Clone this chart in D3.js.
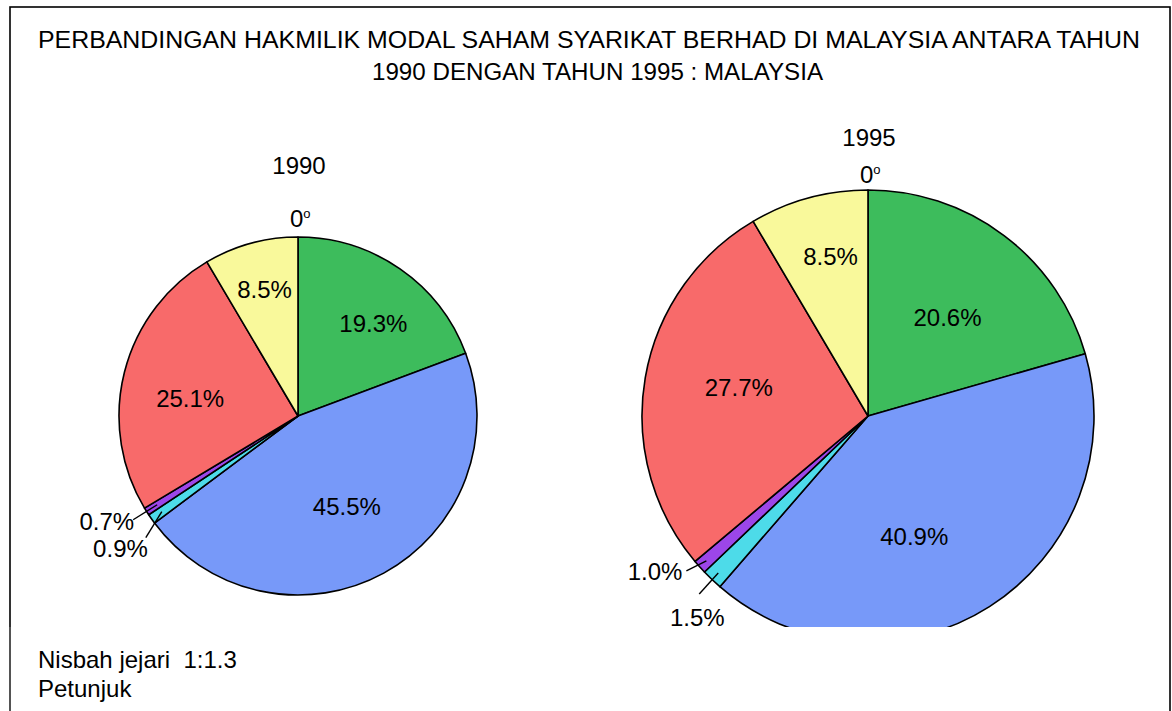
<!DOCTYPE html>
<html>
<head>
<meta charset="utf-8">
<script src="https://cdn.jsdelivr.net/npm/d3@7"></script>
<style>
  html, body { margin: 0; padding: 0; background: #fff; }
  svg { display: block; font-family: "Liberation Sans", Arial, sans-serif; }
</style>
</head>
<body>
<svg id="chart" width="1172" height="711"></svg>
<script>
// ---- data ----
const titleLines = [
  "PERBANDINGAN HAKMILIK MODAL SAHAM SYARIKAT BERHAD DI MALAYSIA ANTARA TAHUN",
  "1990 DENGAN TAHUN 1995 : MALAYSIA"
];
const years = ["1990", "1995"];
const categories = ["Hijau", "Biru", "Sian", "Ungu", "Merah", "Kuning"];
const values1990 = [19.3, 45.5, 0.9, 0.7, 25.1, 8.5];
const values1995 = [20.6, 40.9, 1.5, 1.0, 27.7, 8.5];
const startLabel = "0";
const noteLines = ["Nisbah jejari  1:1.3", "Petunjuk"];

// ---- style / layout ----
const colors = ["#3dbc5c", "#7799f9", "#4ddbe9", "#9c46e9", "#f86a6a", "#f9f99b"];
const pieLayout = [
  { cx: 298, cy: 416, r: 179, yearY: 174, zeroY: 227,
    labelR: [0.66, 0.57, null, null, 0.61, 0.73],
    nudge: [[8, 5], [0, 1], null, null, [-2, 9], [1, 0]],
    leaderStart: 0.93,
    leaders: { 2: { v: [-16, 26], t: [2, 19], anchor: "end" },
               3: { v: [-24, 15], t: [1, 10], anchor: "end" } } },
  { cx: 868, cy: 416, r: 226, yearY: 146, zeroY: 183,
    labelR: [0.57, 0.57, null, null, 0.58, 0.73],
    nudge: [[2, 4], [-23, 12], null, null, [0, -6], [6, 0]],
    leaderStart: 0.96,
    leaders: { 2: { v: [-19, 21], t: [-2, 32], anchor: "middle" },
               3: { v: [-20, 10], t: [-4, 9], anchor: "end" } } }
];
const series = [values1990, values1995];
const fmt = d3.format(".1f");
const FS = 24;

const svg = d3.select("#chart");

// outer frame
svg.append("rect").attr("x", 10).attr("y", 7).attr("width", 1160).attr("height", 730)
  .attr("fill", "none").attr("stroke", "#000").attr("stroke-width", 1.6);

// title
svg.append("text").attr("x", 38).attr("y", 48)
  .attr("textLength", 1102).attr("lengthAdjust", "spacingAndGlyphs")
  .attr("font-size", 23).attr("fill", "#000").text(titleLines[0]);
svg.append("text").attr("x", 372).attr("y", 80)
  .attr("textLength", 451).attr("lengthAdjust", "spacingAndGlyphs")
  .attr("font-size", 23).attr("fill", "#000").text(titleLines[1]);

const pie = d3.pie().sort(null).value(d => d);

series.forEach((vals, pi) => {
  const L = pieLayout[pi];
  const g = svg.append("g").attr("transform", `translate(${L.cx},${L.cy})`);
  const arcs = pie(vals);
  const arc = d3.arc().innerRadius(0).outerRadius(L.r);

  g.selectAll("path.slice").data(arcs).enter().append("path")
    .attr("class", "slice")
    .attr("d", arc)
    .attr("fill", (d, i) => colors[i])
    .attr("stroke", "#000").attr("stroke-width", 1.6)
    .attr("stroke-linejoin", "round");

  arcs.forEach((d, i) => {
    const mid = (d.startAngle + d.endAngle) / 2;
    const txt = fmt(d.data) + "%";
    if (L.labelR[i] != null) {
      const rr = L.labelR[i] * L.r;
      g.append("text")
        .attr("x", Math.sin(mid) * rr + L.nudge[i][0])
        .attr("y", -Math.cos(mid) * rr + L.nudge[i][1])
        .attr("dy", "0.35em")
        .attr("text-anchor", "middle")
        .attr("font-size", FS).attr("fill", "#000")
        .text(txt);
    } else {
      const ld = L.leaders[i];
      const rs = L.leaderStart * L.r;
      const x0 = Math.sin(mid) * rs, y0 = -Math.cos(mid) * rs;
      const x1 = x0 + ld.v[0], y1 = y0 + ld.v[1];
      g.append("line").attr("x1", x0).attr("y1", y0).attr("x2", x1).attr("y2", y1)
        .attr("stroke", "#000").attr("stroke-width", 1.4);
      g.append("text")
        .attr("x", x1 + ld.t[0]).attr("y", y1 + ld.t[1])
        .attr("text-anchor", ld.anchor)
        .attr("font-size", FS).attr("fill", "#000")
        .text(txt);
    }
  });

  // year label
  svg.append("text").attr("x", L.cx + 1).attr("y", L.yearY)
    .attr("text-anchor", "middle").attr("font-size", FS).attr("fill", "#000")
    .text(years[pi]);
  // 0 degree marker
  const z = svg.append("text").attr("x", L.cx - 8).attr("y", L.zeroY)
    .attr("font-size", FS).attr("fill", "#000");
  z.append("tspan").text(startLabel);
  z.append("tspan").attr("font-size", 13).attr("dy", -9).text("o");
});

// note box covering lower part
svg.append("rect").attr("x", 11).attr("y", 627).attr("width", 1157).attr("height", 90)
  .attr("fill", "#fff");
svg.append("line").attr("x1", 10).attr("y1", 627).attr("x2", 10).attr("y2", 711)
  .attr("stroke", "#777").attr("stroke-width", 1);
svg.append("text").attr("x", 38).attr("y", 668).attr("font-size", FS).attr("fill", "#000")
  .style("white-space", "pre").text(noteLines[0]);
svg.append("text").attr("x", 38).attr("y", 697).attr("font-size", FS).attr("fill", "#000")
  .text(noteLines[1]);
</script>
</body>
</html>
